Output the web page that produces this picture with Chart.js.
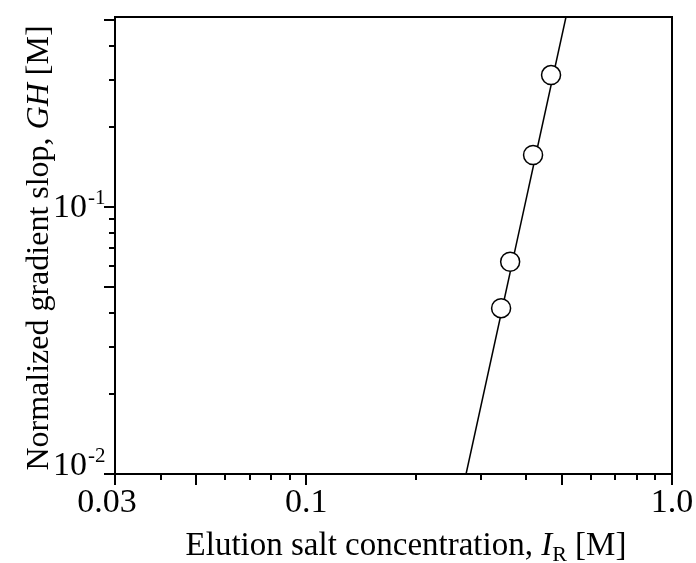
<!DOCTYPE html>
<html>
<head>
<meta charset="utf-8">
<script src="https://cdn.jsdelivr.net/npm/chart.js@4/dist/chart.umd.min.js"></script>
<style>
    html, body { margin: 0; padding: 0; background: #fff; }
    #wrap { width: 696px; height: 563px; }
</style>
</head>
<body>
<div id="wrap"><canvas id="gradientChart" width="696" height="563"></canvas></div>
<script>
const saltConc = [0.341, 0.361, 0.417, 0.467];
const gradientSlope = [0.0418, 0.0624, 0.1566, 0.312];

// Regressionsgerade (Endpunkte am Rand des Diagramms)
const fitConc = [0.2735, 0.513];
const fitSlope = [0.01, 0.515];

// Achsen
const xRange = [0.03, 1.0];
const yRange = [0.01, 0.515];
const xTicks = [0.03, 0.04, 0.05, 0.06, 0.07, 0.08, 0.09, 0.1, 0.2, 0.3, 0.4, 0.5, 0.6, 0.7, 0.8, 0.9, 1.0];
const xLongTicks = [0.03, 0.05, 0.1, 0.5, 1.0];
const xTickLabels = ['0.03', '0.1', '1.0'];
const xLabelValues = [0.03, 0.1, 1.0];
const yTicks = [0.01, 0.02, 0.03, 0.04, 0.05, 0.06, 0.07, 0.08, 0.09, 0.1, 0.2, 0.3, 0.4, 0.5];
const yLongTicks = [0.01, 0.05, 0.1, 0.5];
const yLabelValues = [0.01, 0.1];
const yLabelExponents = ['-2', '-1'];

const serif = '"Liberation Serif", "Times New Roman", serif';

const axesPlugin = {
    id: 'axesPlugin',
    afterDraw(chart) {
        const ctx = chart.ctx;
        const area = chart.chartArea;
        const xs = chart.scales.x;
        const ys = chart.scales.y;

        ctx.save();
        ctx.strokeStyle = '#000';
        ctx.fillStyle = '#000';
        ctx.lineWidth = 2;
        ctx.strokeRect(area.left, area.top, area.right - area.left, area.bottom - area.top);

        // Striche x
        ctx.beginPath();
        xTicks.forEach(v => {
            const px = Math.round(xs.getPixelForValue(v));
            const len = xLongTicks.includes(v) ? 11 : 6;
            ctx.moveTo(px, area.bottom);
            ctx.lineTo(px, area.bottom + len);
        });
        // Striche y
        yTicks.forEach(v => {
            const py = Math.round(ys.getPixelForValue(v));
            const len = yLongTicks.includes(v) ? 11 : 6;
            ctx.moveTo(area.left, py);
            ctx.lineTo(area.left - len, py);
        });
        ctx.stroke();

        // Beschriftung x (erste Beschriftung etwas nach links gerueckt)
        ctx.font = `34px ${serif}`;
        ctx.textAlign = 'center';
        ctx.textBaseline = 'alphabetic';
        xLabelValues.forEach((v, i) => {
            let px = xs.getPixelForValue(v);
            if (i === 0) px -= 8;
            ctx.fillText(xTickLabels[i], px, area.bottom + 38);
        });

        // Beschriftung y (10 hoch n)
        yLabelValues.forEach((v, i) => {
            const py = ys.getPixelForValue(v);
            const base = Math.min(py + 10, area.bottom + 1);
            ctx.font = `34px ${serif}`;
            ctx.textAlign = 'right';
            ctx.fillText('10', area.left - 28, base);
            ctx.font = `21px ${serif}`;
            ctx.textAlign = 'left';
            ctx.fillText(yLabelExponents[i], area.left - 27, base - 13);
        });

        // x-Titel
        const xParts = [
            { t: 'Elution salt concentration, ', f: `33px ${serif}`, dy: 0 },
            { t: 'I', f: `italic 33px ${serif}`, dy: 0 },
            { t: 'R', f: `22px ${serif}`, dy: 6 },
            { t: ' [M]', f: `33px ${serif}`, dy: 0 }
        ];
        drawParts(ctx, xParts, 406, 555);

        // y-Titel
        ctx.translate(48, 248);
        ctx.rotate(-Math.PI / 2);
        const yParts = [
            { t: 'Normalized gradient slop, ', f: `32px ${serif}`, dy: 0 },
            { t: 'GH', f: `italic 32px ${serif}`, dy: 0 },
            { t: ' [M]', f: `32px ${serif}`, dy: 0 }
        ];
        drawParts(ctx, yParts, 0, 0);
        ctx.restore();
    }
};

function drawParts(ctx, parts, cx, baseY) {
    let total = 0;
    parts.forEach(p => {
        ctx.font = p.f;
        total += ctx.measureText(p.t).width;
    });
    let x = cx - total / 2;
    ctx.textAlign = 'left';
    ctx.textBaseline = 'alphabetic';
    parts.forEach(p => {
        ctx.font = p.f;
        ctx.fillText(p.t, x, baseY + p.dy);
        x += ctx.measureText(p.t).width;
    });
}

new Chart(document.getElementById('gradientChart'), {
    type: 'scatter',
    data: {
        datasets: [
            {
                label: 'Fit',
                data: fitConc.map((c, i) => ({ x: c, y: fitSlope[i] })),
                showLine: true,
                borderColor: '#000',
                borderWidth: 1.5,
                pointRadius: 0,
                fill: false,
                clip: 0,
                order: 2
            },
            {
                label: 'Messwerte',
                data: saltConc.map((c, i) => ({ x: c, y: gradientSlope[i] })),
                pointRadius: 9.5,
                pointBackgroundColor: '#fff',
                pointBorderColor: '#000',
                pointBorderWidth: 1.5,
                order: 1
            }
        ]
    },
    options: {
        responsive: false,
        animation: false,
        layout: {
            padding: { left: 115, top: 17, right: 24, bottom: 89 }
        },
        plugins: {
            legend: { display: false },
            tooltip: { enabled: false }
        },
        scales: {
            x: { type: 'logarithmic', min: xRange[0], max: xRange[1], display: false },
            y: { type: 'logarithmic', min: yRange[0], max: yRange[1], display: false }
        }
    },
    plugins: [axesPlugin]
});
</script>
</body>
</html>
